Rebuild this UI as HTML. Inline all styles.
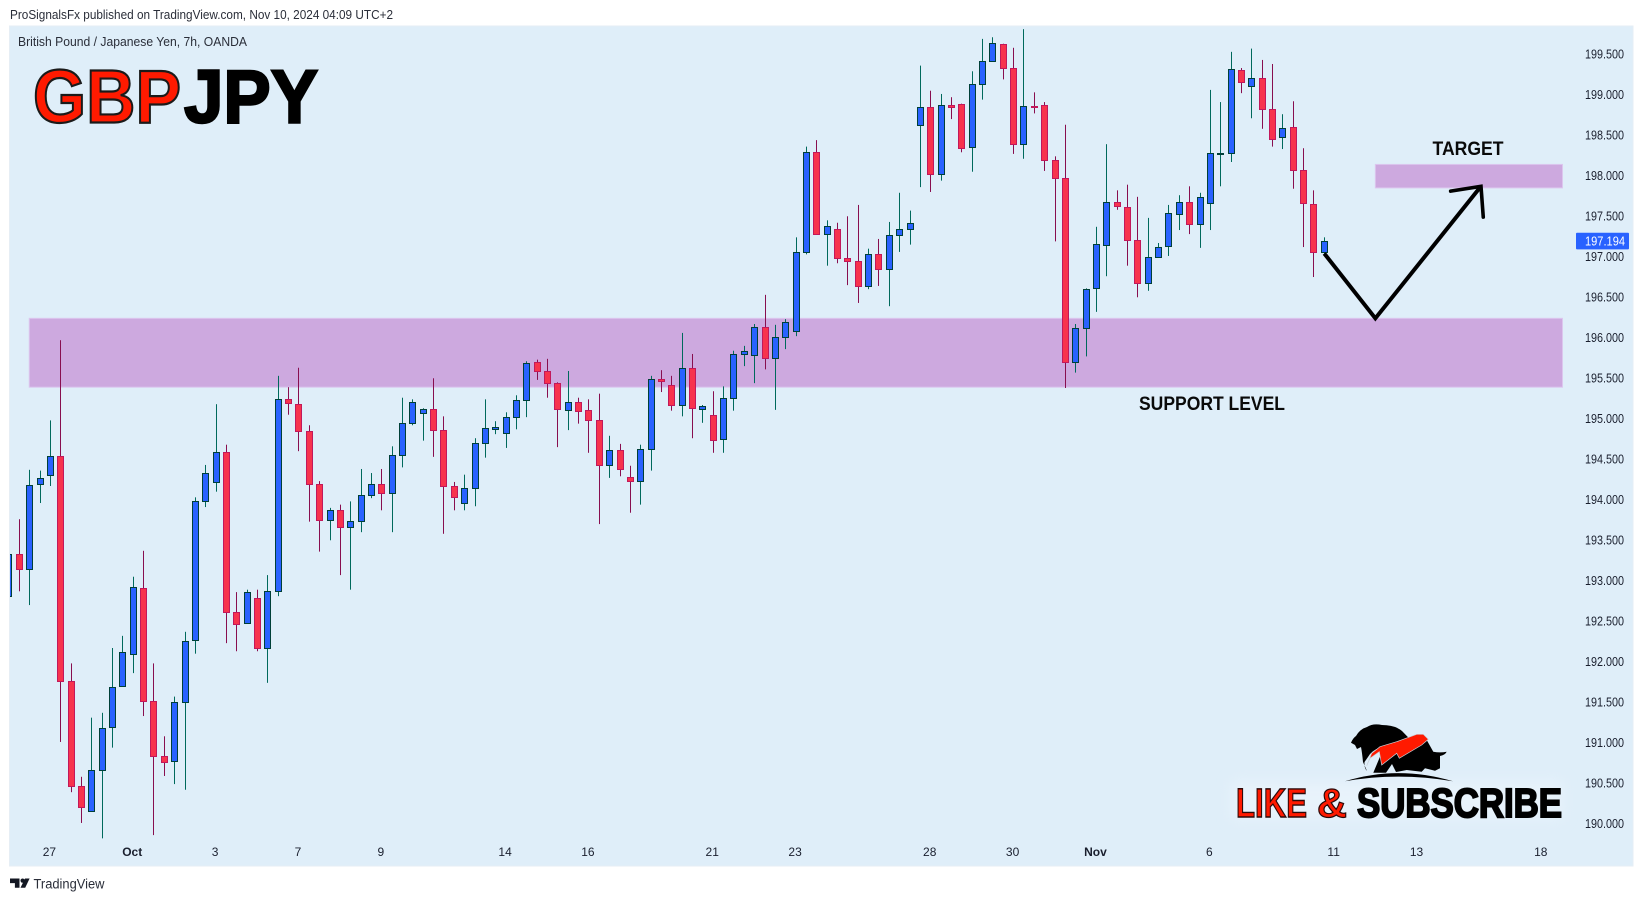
<!DOCTYPE html>
<html lang="en">
<head>
<meta charset="utf-8">
<title>GBPJPY chart</title>
<style>
  html, body { margin: 0; padding: 0; background: #ffffff; }
  body { width: 1643px; height: 901px; overflow: hidden; }
  svg { display: block; font-family: "Liberation Sans", sans-serif; }
</style>
</head>
<body>
<svg id="chart" xmlns="http://www.w3.org/2000/svg" width="1643" height="901" viewBox="0 0 1643 901">
  <defs>
    <clipPath id="pane-clip"><rect x="10" y="27" width="1622" height="838"></rect></clipPath>
    <filter id="soft-glow" x="-10%" y="-40%" width="120%" height="180%"><feGaussianBlur stdDeviation="7"></feGaussianBlur></filter>
  </defs>

  <rect x="0" y="0" width="1643" height="901" fill="#ffffff"></rect>
  <text x="10" y="19" font-size="12.5" fill="#2a2e39" textLength="383" lengthAdjust="spacingAndGlyphs">ProSignalsFx published on TradingView.com, Nov 10, 2024 04:09 UTC+2</text>

  <rect x="9.5" y="26" width="1623.5" height="840" fill="#dfeef9" stroke="#e6eef5" stroke-width="1"></rect>
  <text x="18" y="46" font-size="12.5" fill="#2a2e39" textLength="229" lengthAdjust="spacingAndGlyphs">British Pound / Japanese Yen, 7h, OANDA</text>

  <g id="zones"></g>
  <g id="candles" clip-path="url(#pane-clip)"></g>
  <g id="price-axis"></g>
  <g id="time-axis"></g>
  <g id="forecast"></g>

  <g font-weight="700" font-size="75">
    <text x="33" y="122.5" fill="#ff1a00" stroke="#1a1a1a" stroke-width="2.2" paint-order="normal" textLength="148" lengthAdjust="spacingAndGlyphs">GBP</text>
    <text x="184" y="122.5" fill="#000000" stroke="#000000" stroke-width="2.4" textLength="134" lengthAdjust="spacingAndGlyphs">JPY</text>
  </g>

  <text x="1139" y="410" font-size="19.5" font-weight="700" fill="#0a0a0a" textLength="146" lengthAdjust="spacingAndGlyphs">SUPPORT LEVEL</text>
  <text x="1432.5" y="155" font-size="19.5" font-weight="700" fill="#0a0a0a" textLength="71" lengthAdjust="spacingAndGlyphs">TARGET</text>

  <g>
    <rect x="1232" y="782" width="330" height="36" fill="#e8f3fb" filter="url(#soft-glow)"></rect>
    <path d="M1351 742.7 Q1353 738 1356 736 Q1360 729 1367 727 Q1373 723 1382 725 Q1395 725 1402 731 L1408.3 737.5 L1398 742 L1380 747.5 Q1371 751 1368 757 L1364.5 762 Q1364 768 1367 771 L1363 762 Q1362 752 1361 747 L1357 749 L1355 745 Z" fill="#000000"></path>
    <path d="M1426.7 740 L1433.3 751.7 Q1440 753 1446.7 751.7 Q1445 755 1440 756 L1440 768.3 L1435 770.7 L1425 768.3 L1421.7 771.7 L1406.7 770 L1396 772 L1392 764 L1386 772.7 L1373.3 772.7 L1380 756.7 Z" fill="#000000"></path>
    <path d="M1366.7 765.7 L1371.7 753.3 L1380 746.7 L1396.7 741.7 L1416.7 734.3 L1423.3 734.3 L1428.3 739.3 L1421.7 745 L1399.3 758.3 L1396.7 753.3 L1381.7 765 L1379.3 751.7 L1370 758.3 Z" fill="#ff1a00" stroke="#c8d0d8" stroke-width="0.7"></path>
    <path d="M1345 781.3 Q1398 765 1453 781.3 Q1398 772 1345 781.3 Z" fill="#000000"></path>
    <text x="1236" y="817" font-size="41" font-weight="700" fill="#ff1a00" stroke="#2a0a0a" stroke-width="1.4" textLength="71" lengthAdjust="spacingAndGlyphs">LIKE</text>
    <text x="1317" y="817" font-size="41" font-weight="700" fill="#ff1a00" stroke="#2a0a0a" stroke-width="1.2" textLength="30" lengthAdjust="spacingAndGlyphs">&amp;</text>
    <text x="1357" y="817" font-size="41" font-weight="700" fill="#000000" stroke="#000000" stroke-width="2" textLength="205" lengthAdjust="spacingAndGlyphs">SUBSCRIBE</text>
  </g>

  <g>
    <path d="M10 878.5h9.5v9.2h-4.6v-4.6h-4.9z" fill="#131722"></path>
    <circle cx="22.6" cy="880.6" r="2.1" fill="#131722"></circle>
    <path d="M25 878.5h4.6l-4.4 9.2h-4.7z" fill="#131722"></path>
    <text x="33.5" y="888.5" font-size="13.5" fill="#2a2e39" textLength="71" lengthAdjust="spacingAndGlyphs">TradingView</text>
  </g>
</svg>

<script>
const opens = [
192.81,193.33,193.15,194.19,194.31,194.54,191.76,190.47,190.16,190.66,
191.19,191.70,192.10,192.91,191.52,190.84,190.77,191.50,192.27,193.98,
194.22,194.59,192.61,192.48,192.79,192.17,192.87,195.24,195.18,194.85,
194.19,193.75,193.87,193.66,193.74,194.06,194.19,194.08,194.55,194.95,
195.07,195.12,194.86,194.17,193.96,194.15,194.70,194.87,194.82,195.02,
195.23,195.70,195.59,195.44,195.11,195.21,195.11,194.98,194.43,194.61,
194.28,194.23,194.63,195.49,195.42,195.17,195.63,195.12,195.05,194.75,
195.26,195.80,195.79,196.13,195.75,196.01,196.08,197.06,198.29,197.28,
197.34,196.98,196.95,196.64,197.03,196.85,197.27,197.34,198.63,198.85,
198.02,198.87,198.89,198.36,199.13,199.42,199.63,199.33,198.39,198.86,
198.87,198.19,197.97,195.70,196.12,196.61,197.15,197.68,197.61,197.21,
196.68,197.00,197.13,197.53,197.68,197.40,197.66,198.27,198.28,199.31,
199.11,199.21,198.82,198.48,198.60,198.07,197.65,197.06];

const highs = [
193.33,193.76,194.37,194.36,194.98,195.97,191.98,190.58,191.31,191.37,
192.17,192.32,193.05,193.37,191.98,191.08,191.57,192.37,194.03,194.43,
195.18,194.68,192.86,192.89,192.89,193.07,195.53,195.39,195.63,194.92,
194.23,193.90,193.94,193.98,194.38,194.33,194.38,194.66,195.26,195.24,
195.13,195.50,195.03,194.22,194.31,194.76,195.24,194.97,195.08,195.29,
195.71,195.73,195.74,195.45,195.59,195.26,195.24,195.31,194.79,194.69,
194.42,194.68,195.53,195.60,195.53,196.06,195.80,195.17,195.34,195.40,
195.84,195.90,196.17,196.53,196.16,196.23,197.24,198.36,198.44,197.45,
197.42,197.50,197.64,197.10,197.22,197.43,197.79,197.57,199.36,199.05,
199.01,198.97,198.89,199.29,199.69,199.71,199.63,199.58,199.81,199.03,
198.91,198.24,198.63,196.17,196.61,197.37,198.39,197.82,197.89,197.74,
197.48,197.17,197.64,197.76,197.87,197.79,199.06,198.91,199.53,199.33,
199.57,199.43,199.38,198.76,198.92,198.34,197.82,197.24];

const lows = [
192.81,192.87,192.70,193.96,194.17,191.01,190.39,190.01,190.16,189.82,
190.94,191.70,191.86,191.33,189.86,190.59,190.49,190.42,192.10,193.91,
194.10,192.23,192.13,192.48,192.13,191.74,192.81,195.05,194.60,193.73,
193.36,193.50,193.07,192.89,193.60,194.02,193.87,193.60,194.40,194.92,
194.73,194.53,193.58,193.87,193.87,193.92,194.52,194.81,194.64,194.87,
195.02,195.48,195.26,194.65,194.86,194.94,194.58,193.70,194.27,194.29,
193.84,193.94,194.36,195.33,195.10,195.03,194.76,194.95,194.58,194.58,
195.10,195.65,195.44,195.61,195.11,195.86,196.02,197.03,197.28,196.89,
196.92,196.65,196.43,196.60,196.64,196.39,197.06,197.15,197.86,197.80,
197.94,198.70,198.29,198.05,198.94,199.42,199.19,198.27,198.21,198.77,
198.06,197.19,195.38,195.57,195.77,196.32,196.76,197.58,196.89,196.50,
196.58,197.00,197.01,197.33,197.28,197.11,197.33,197.87,198.17,199.02,
198.71,198.58,198.36,198.33,197.84,197.12,196.75,197.02];

const closes = [
193.33,193.15,194.18,194.27,194.54,191.76,190.47,190.21,190.66,191.18,
191.69,192.12,192.92,191.52,190.84,190.76,191.50,192.26,193.98,194.33,
194.59,192.61,192.47,192.86,192.17,192.87,195.24,195.19,194.85,194.19,
193.75,193.87,193.66,193.74,194.06,194.19,194.08,194.55,194.95,195.21,
195.12,194.86,194.17,194.03,194.15,194.70,194.89,194.90,195.02,195.23,
195.69,195.59,195.44,195.12,195.21,195.10,194.98,194.43,194.61,194.38,
194.23,194.63,195.49,195.47,195.17,195.63,195.13,195.16,194.74,195.26,
195.80,195.84,196.13,195.75,196.01,196.19,197.06,198.29,197.28,197.38,
196.98,196.95,196.64,197.03,196.85,197.27,197.34,197.42,198.85,198.02,
198.87,198.85,198.34,199.13,199.42,199.64,199.33,198.39,198.86,198.85,
198.19,197.97,195.70,196.12,196.60,197.16,197.68,197.63,197.21,196.68,
197.00,197.12,197.54,197.68,197.40,197.74,198.28,198.28,199.32,199.16,
199.21,198.82,198.45,198.59,198.07,197.66,197.06,197.19];

const priceTicks = [199.5,199,198.5,198,197.5,197,196.5,196,195.5,195,194.5,194,193.5,193,192.5,192,191.5,191,190.5,190];
const timeTickLabels = ["27","Oct","3","7","9","14","16","21","23","28","30","Nov","6","11","13","18"];
const timeTickBars = [4,12,20,28,36,48,56,68,76,89,97,105,116,128,136,148];
const boldTimeLabels = ["Oct","Nov"];
const lastPrice = [197.194];

const supportZonePrices = [196.24,195.39];
const supportZoneBars = [1.96,150];
const targetZonePrices = [198.14,197.85];
const targetZoneBars = [131.93,150];
const forecastBars = [127,131.93,142.13];
const forecastPrices = [197.04,196.24,197.87];
const arrowHeadBars = [139.2,142.13,142.35];
const arrowHeadPrices = [197.81,197.87,197.49];

const SVG_NS = 'http://www.w3.org/2000/svg';
function xScale(bar) { return 8.95 + 10.357 * bar; }
function yScale(price) { return (200.17 - price) * 81; }
function make(tag, attrs, parent) {
  const el = document.createElementNS(SVG_NS, tag);
  for (const key in attrs) { el.setAttribute(key, attrs[key]); }
  parent.appendChild(el);
  return el;
}

const zonesLayer = document.getElementById('zones');
function drawZone(bars, prices, parent) {
  const left = xScale(bars[0]);
  const right = xScale(bars[1]);
  const top = yScale(prices[0]);
  const bottom = yScale(prices[1]);
  return make('rect', {
    x: left, y: top, width: right - left, height: bottom - top,
    fill: '#cda9df', stroke: '#dcc6ee', 'stroke-width': 1
  }, parent);
}
const supportZone = drawZone(supportZoneBars, supportZonePrices, zonesLayer);


const targetZone = drawZone(targetZoneBars, targetZonePrices, zonesLayer);



const candlesLayer = document.getElementById('candles');
opens.forEach(function (open, i) {
  const close = closes[i];
  const up = close >= open;
  const cx = Math.floor(xScale(i));
  const top = Math.round(yScale(Math.max(open, close)));
  const bottom = Math.round(yScale(Math.min(open, close)));
  const group = make('g', {}, candlesLayer);
  
  
  const wick = make('rect', {
    x: cx, y: yScale(highs[i]), width: 1, height: yScale(lows[i]) - yScale(highs[i]),
    fill: up ? '#00695c' : '#880e4f'
  }, group);
  
  
  const body = make('rect', {
    x: cx - 2.5, y: top + 0.5, width: 6, height: Math.max(bottom - top, 1),
    fill: up ? '#2962ff' : '#f7334d',
    stroke: up ? '#004038' : '#c2185b', 'stroke-width': 1
  }, group);
  
  
});

const priceAxis = document.getElementById('price-axis');
priceTicks.forEach(function (tick) {
  const label = make('text', {
    x: 1585, y: yScale(tick) + 4.4, 'font-size': 12.5, fill: '#1a1f2e',
    textLength: 39, lengthAdjust: 'spacingAndGlyphs'
  }, priceAxis);
  
  
  label.textContent = tick.toFixed(3);
});

const lastTag = make('rect', {
  x: 1576, y: yScale(lastPrice[0]) - 8.3, width: 53, height: 16.6, rx: 1, fill: '#2962ff'
}, priceAxis);


const lastLabel = make('text', {
  x: 1585, y: yScale(lastPrice[0]) + 4.6, 'font-size': 12.5, fill: '#ffffff',
  textLength: 40, lengthAdjust: 'spacingAndGlyphs'
}, priceAxis);


lastLabel.textContent = lastPrice[0].toFixed(3);

const timeAxis = document.getElementById('time-axis');
timeTickLabels.forEach(function (text, i) {
  const bold = boldTimeLabels.indexOf(text) !== -1;
  const label = make('text', {
    x: xScale(timeTickBars[i]) - 1, y: 856, 'font-size': 12,
    'text-anchor': 'middle', fill: '#1a1f2e', 'font-weight': bold ? 700 : 400
  }, timeAxis);
  
  
  label.textContent = text;
});

function polylinePoints(bars, prices) {
  return bars.map(function (bar, i) {
    return xScale(bar) + ',' + yScale(prices[i]);
  }).join(' ');
}
const forecastLayer = document.getElementById('forecast');
const forecastLine = make('polyline', {
  points: polylinePoints(forecastBars, forecastPrices),
  fill: 'none', stroke: '#000000', 'stroke-width': 4, 'stroke-linejoin': 'miter'
}, forecastLayer);


const arrowHead = make('polyline', {
  points: polylinePoints(arrowHeadBars, arrowHeadPrices),
  fill: 'none', stroke: '#000000', 'stroke-width': 3.6,
  'stroke-linejoin': 'miter', 'stroke-linecap': 'round'
}, forecastLayer);


</script>
</body>
</html>
